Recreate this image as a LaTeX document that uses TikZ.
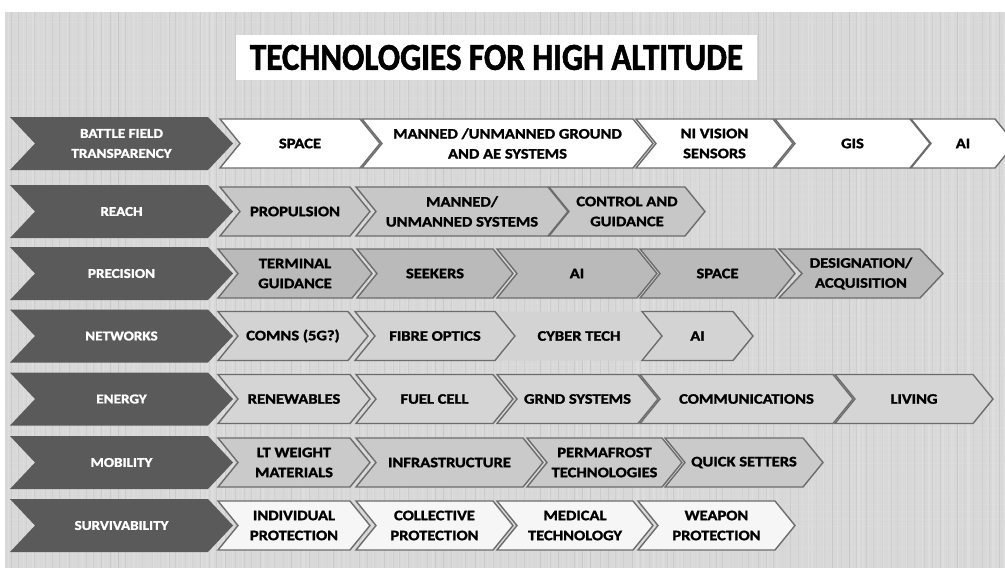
\documentclass[tikz,border=0pt]{standalone}
\usepackage{fontspec}
\setmainfont{Carlito}[BoldFeatures={FakeBold=1.6}]
\definecolor{bggray}{HTML}{D8D8D8}
\definecolor{catgray}{HTML}{5A5A5A}
\definecolor{edgegray}{HTML}{6C6C6C}
\definecolor{rowA}{HTML}{FFFFFF}
\definecolor{rowB}{HTML}{C7C7C7}
\definecolor{rowC}{HTML}{BABABA}
\definecolor{rowD}{HTML}{D3D3D3}
\definecolor{rowE}{HTML}{D5D5D5}
\definecolor{rowF}{HTML}{CACACA}
\definecolor{rowG}{HTML}{F6F6F6}
% #1 name, #2 left x, #3 tip x, #4 centre y, #5 half height, #6 point depth,
% #7 shape style, #8 label style, #9 label
\newcommand\techchev[9]{%
  \path[#7] (#2,#4-#5) -- (#3-#6,#4-#5) -- (#3,#4) -- (#3-#6,#4+#5)
    -- (#2,#4+#5) -- (#2+#6,#4) -- cycle;
  \node[#8] (#1) at ({(#2+#3)/2},#4) {#9};
}
\begin{document}
\begin{tikzpicture}[x=1pt,y=-1pt,
  catbox/.style={fill=catgray},
  itembox/.style={fill=#1,draw=edgegray,line width=1.4pt,line join=miter},
  catlabel/.style={text=white,font=\bfseries\fontsize{13.5}{20}\selectfont\addfontfeature{FakeStretch=1.12},align=center,inner sep=0pt},
  itemlabel/.style={text=black,font=\bfseries\fontsize{14.5}{20}\selectfont\addfontfeature{FakeStretch=1.14},align=center,inner sep=0pt},
  titlelabel/.style={font=\bfseries\fontsize{38}{40}\selectfont,inner sep=0pt}]
\useasboundingbox (0,0) rectangle (1005,568);
\clip (0,0) rectangle (1005,568);
\fill[white] (0,0) rectangle (1005,568);
% textured grey canvas
\fill[bggray] (5,12) rectangle (1005,568);
\pgfmathsetseed{11}
\foreach \i in {0,...,199} {
  \pgfmathsetmacro\xx{7+5*\i+2*rnd}
  \pgfmathsetmacro\op{0.04+0.12*rnd}
  \pgfmathsetmacro\lw{0.8+1.6*rnd}
  \draw[white,opacity=\op,line width=\lw pt] (\xx,12) -- (\xx,568);
}
\foreach \i in {0,...,120} {
  \pgfmathsetmacro\xx{9+8.3*\i+3*rnd}
  \pgfmathsetmacro\op{0.02+0.06*rnd}
  \draw[black,opacity=\op,line width=0.8pt] (\xx,12) -- (\xx,568);
}
\foreach \i in {0,...,80} {
  \pgfmathsetmacro\yy{14+7*\i+2*rnd}
  \pgfmathsetmacro\op{0.03+0.06*rnd}
  \draw[white,opacity=\op,line width=1pt] (5,\yy) -- (1005,\yy);
}
% title
\fill[white] (236,35) rectangle (757,80);
\node[titlelabel] (title) at (496.5,57.5) {\scalebox{0.87}[1]{TECHNOLOGIES FOR HIGH ALTITUDE}};

% category chevrons
\techchev{c1}{10}{233}{143.5}{26.5}{25}{catbox}{catlabel}{BATTLE FIELD\\TRANSPARENCY}
\techchev{c2}{10}{233}{211.5}{26.5}{25}{catbox}{catlabel}{REACH}
\techchev{c3}{10}{233}{273.5}{26.5}{25}{catbox}{catlabel}{PRECISION}
\techchev{c4}{10}{233}{336}{26.5}{25}{catbox}{catlabel}{NETWORKS}
\techchev{c5}{10}{233}{399}{26.5}{25}{catbox}{catlabel}{ENERGY}
\techchev{c6}{10}{233}{462.5}{26.5}{25}{catbox}{catlabel}{MOBILITY}
\techchev{c7}{10}{233}{525.5}{26.5}{25}{catbox}{catlabel}{SURVIVABILITY}

% battle field transparency
\techchev{a1}{220}{380}{143.5}{24.5}{20}{itembox=rowA}{itemlabel}{SPACE}
\techchev{a2}{362}{653}{143.5}{24.5}{20}{itembox=rowA}{itemlabel}{MANNED /UNMANNED GROUND\\AND AE SYSTEMS}
\techchev{a3}{636}{793}{143.5}{24.5}{20}{itembox=rowA}{itemlabel}{NI VISION\\SENSORS}
\techchev{a4}{775}{930}{143.5}{24.5}{20}{itembox=rowA}{itemlabel}{GIS}
\techchev{a5}{911}{1015}{143.5}{24.5}{20}{itembox=rowA}{itemlabel}{AI}

% reach
\techchev{b1}{220}{370}{211.5}{24.5}{20}{itembox=rowB}{itemlabel}{PROPULSION}
\techchev{b2}{356}{568}{211.5}{24.5}{20}{itembox=rowB}{itemlabel}{MANNED/\\UNMANNED SYSTEMS}
\techchev{b3}{549}{705}{211.5}{24.5}{20}{itembox=rowB}{itemlabel}{CONTROL AND\\GUIDANCE}

% precision
\techchev{p1}{218}{372}{273.5}{24.5}{20}{itembox=rowC}{itemlabel}{TERMINAL\\GUIDANCE}
\techchev{p2}{357}{513}{273.5}{24.5}{20}{itembox=rowC}{itemlabel}{SEEKERS}
\techchev{p3}{497}{657}{273.5}{24.5}{20}{itembox=rowC}{itemlabel}{AI}
\techchev{p4}{640}{795}{273.5}{24.5}{20}{itembox=rowC}{itemlabel}{SPACE}
\techchev{p5}{779}{943}{273.5}{24.5}{23}{itembox=rowC}{itemlabel}{DESIGNATION/\\ACQUISITION}

% networks
\techchev{n1}{218}{368}{336}{24.5}{20}{itembox=rowD}{itemlabel}{COMNS (5G?)}
\techchev{n2}{355}{515}{336}{24.5}{20}{itembox=rowD}{itemlabel}{FIBRE OPTICS}
\techchev{n3}{498}{660}{336}{24.5}{20}{fill=rowD}{itemlabel}{CYBER TECH}
\techchev{n4}{642}{753}{336}{24.5}{20}{itembox=rowD}{itemlabel}{AI}

% energy
\techchev{e1}{218}{370}{399}{24.5}{20}{itembox=rowE}{itemlabel}{RENEWABLES}
\techchev{e2}{356}{513}{399}{24.5}{20}{itembox=rowE}{itemlabel}{FUEL CELL}
\techchev{e3}{497}{658}{399}{24.5}{20}{itembox=rowE}{itemlabel}{GRND SYSTEMS}
\techchev{e4}{640}{853}{399}{24.5}{20}{itembox=rowE}{itemlabel}{COMMUNICATIONS}
\techchev{e5}{835}{993}{399}{24.5}{20}{itembox=rowE}{itemlabel}{LIVING}

% mobility
\techchev{m1}{218}{370}{462.5}{24.5}{20}{itembox=rowF}{itemlabel}{LT WEIGHT\\MATERIALS}
\techchev{m2}{356}{543}{462.5}{24.5}{20}{itembox=rowF}{itemlabel}{INFRASTRUCTURE}
\techchev{m3}{527}{682}{462.5}{24.5}{20}{itembox=rowF}{itemlabel}{PERMAFROST\\TECHNOLOGIES}
\techchev{m4}{665}{823}{462.5}{24.5}{20}{itembox=rowF}{itemlabel}{QUICK SETTERS}

% survivability
\techchev{s1}{218}{370}{525.5}{24.5}{20}{itembox=rowG}{itemlabel}{INDIVIDUAL\\PROTECTION}
\techchev{s2}{356}{513}{525.5}{24.5}{20}{itembox=rowG}{itemlabel}{COLLECTIVE\\PROTECTION}
\techchev{s3}{497}{653}{525.5}{24.5}{20}{itembox=rowG}{itemlabel}{MEDICAL\\TECHNOLOGY}
\techchev{s4}{638}{795}{525.5}{24.5}{20}{itembox=rowG}{itemlabel}{WEAPON\\PROTECTION}
\end{tikzpicture}
\end{document}
